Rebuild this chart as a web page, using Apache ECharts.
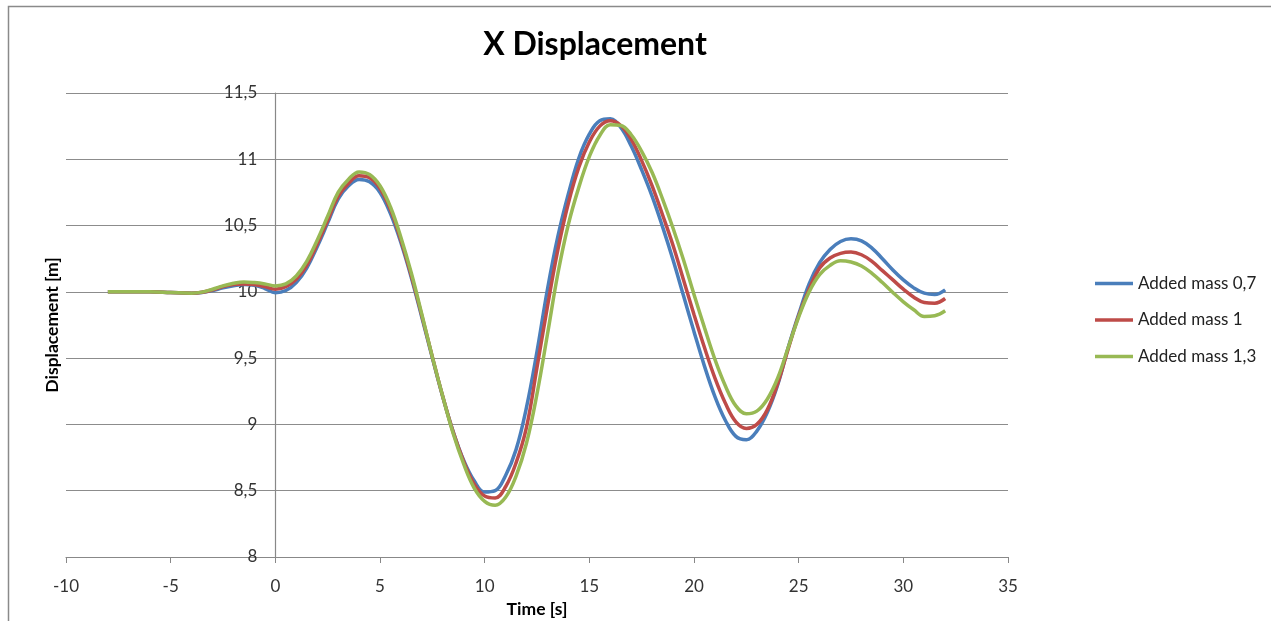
<!DOCTYPE html>
<html>
<head>
<meta charset="utf-8">
<script src="https://cdn.jsdelivr.net/npm/echarts@6/dist/echarts.min.js"></script>
<style>
html,body{margin:0;padding:0;background:#fff;}
#chart{width:1271px;height:621px;}
</style>
</head>
<body>
<div id="chart"></div>
<script>
var times = [-8,-7,-6,-5,-4,-3.5,-3,-2.5,-2,-1.5,-1,-0.5,0,
  0.5,1,1.5,2,2.5,3,3.5,4,4.5,5,5.5,6,6.5,7,7.5,8,8.5,9,9.5,10,
  10.5,11,11.5,12,12.5,13,13.5,14,14.5,15,15.5,16,16.5,17,17.5,18,18.5,19,19.5,20,20.5,21,21.5,22,
  22.5,23,23.5,24,24.5,25,25.5,26,26.5,27,27.5,28,28.5,29,29.5,30,30.5,31,31.5,32];
var mass07 = [10.00,10.00,10.00,9.995,9.99,9.995,10.01,10.03,10.045,10.055,10.05,10.025,9.993,
  10.01,10.07,10.18,10.34,10.52,10.70,10.80,10.848,10.83,10.75,10.59,10.37,10.105,9.807,9.502,9.207,8.944,8.729,8.575,8.49,
  8.50,8.615,8.81,9.13,9.55,10.02,10.42,10.74,11.01,11.19,11.29,11.305,11.24,11.10,10.92,10.72,10.49,10.24,9.97,9.70,9.44,9.21,9.03,8.91,
  8.885,8.95,9.09,9.30,9.58,9.83,10.06,10.22,10.32,10.38,10.40,10.385,10.33,10.25,10.165,10.09,10.03,9.99,9.98,10.015];
var mass10 = [10.00,10.00,10.00,9.995,9.99,9.997,10.015,10.04,10.055,10.06,10.055,10.04,10.02,
  10.04,10.095,10.20,10.36,10.54,10.72,10.82,10.875,10.86,10.78,10.62,10.39,10.12,9.82,9.51,9.21,8.94,8.72,8.55,8.46,
  8.445,8.53,8.71,8.98,9.43,9.89,10.32,10.67,10.94,11.13,11.25,11.29,11.255,11.15,10.99,10.80,10.58,10.35,10.09,9.83,9.58,9.35,9.16,9.02,
  8.97,9.00,9.11,9.31,9.57,9.82,10.02,10.18,10.255,10.29,10.30,10.28,10.23,10.16,10.09,10.02,9.96,9.92,9.915,9.95];
var mass13 = [10.00,10.00,10.00,9.995,9.99,9.998,10.02,10.045,10.065,10.075,10.07,10.06,10.045,
  10.06,10.12,10.23,10.39,10.57,10.75,10.85,10.905,10.885,10.80,10.64,10.41,10.14,9.83,9.51,9.21,8.93,8.70,8.52,8.42,
  8.39,8.45,8.61,8.86,9.23,9.68,10.14,10.51,10.79,11.02,11.18,11.26,11.255,11.185,11.06,10.90,10.70,10.48,10.24,9.98,9.73,9.49,9.29,9.14,
  9.08,9.10,9.19,9.35,9.58,9.81,10.00,10.13,10.20,10.235,10.225,10.195,10.14,10.07,9.995,9.925,9.865,9.815,9.82,9.857];
var seriesNames = ['Added mass 0,7','Added mass 1','Added mass 1,3'];
var seriesColors = ['#4a7ebb','#be4b48','#98b954'];
var titleText = 'X Displacement';
var xName = 'Time [s]';
var yName = 'Displacement [m]';

function pairs(vals){ return times.map(function(t,i){ return [t, vals[i]]; }); }
var allVals = [mass07, mass10, mass13];
var FONT = 'Lato, "Open Sans", sans-serif';

var chart = echarts.init(document.getElementById('chart'), null, {renderer:'canvas'});
chart.setOption({
  animation:false,
  backgroundColor:'#fff',
  graphic:[{type:'rect', shape:{x:8.5,y:6.5,width:1275,height:630}, style:{fill:'none', stroke:'#8a8a8a', lineWidth:1.5}, silent:true}],
  title:{text:titleText, left:590, top:24, textAlign:'center',
    textStyle:{fontFamily:FONT, fontSize:32, fontWeight:'bold', color:'#000'}},
  legend:{orient:'vertical', left:1095, top:275, padding:0, itemWidth:38, itemHeight:14, itemGap:19.5,
    icon:'path://M0,0 L40,0 L40,3.5 L0,3.5 Z',
    textStyle:{fontFamily:FONT, fontSize:17, color:'#222'},
    data:seriesNames},
  grid:{left:66, right:263, top:93, bottom:64, containLabel:false, outerBoundsMode:'none'},
  xAxis:{type:'value', min:-10, max:35, interval:5,
    name:xName, nameLocation:'middle', nameGap:40,
    nameTextStyle:{fontFamily:FONT, fontSize:17.5, fontWeight:'bold', color:'#000'},
    axisLine:{onZero:false, lineStyle:{color:'#888', width:1.2}},
    axisTick:{show:true, length:6, lineStyle:{color:'#888'}},
    axisLabel:{fontFamily:FONT, fontSize:17, color:'#333', margin:21},
    splitLine:{show:false}},
  yAxis:{type:'value', min:8, max:11.5, interval:0.5, offset:-209.3,
    name:yName, nameLocation:'middle', nameGap:214, nameRotate:90,
    nameTextStyle:{fontFamily:FONT, fontSize:17.5, fontWeight:'bold', color:'#000'},
    axisLine:{show:true, onZero:false, lineStyle:{color:'#888', width:1.2}},
    axisTick:{show:false},
    axisLabel:{fontFamily:FONT, fontSize:17, color:'#333', margin:18,
      formatter:function(v){ return String(v).replace('.', ','); }},
    splitLine:{show:true, lineStyle:{color:'#8c8c8c', width:1.2}}},
  series:allVals.map(function(vals,i){
    return {name:seriesNames[i], type:'line', data:pairs(vals), smooth:0.4,
      symbol:'none', lineStyle:{color:seriesColors[i], width:3.5},
      itemStyle:{color:seriesColors[i]}};
  })
});
</script>
</body>
</html>
